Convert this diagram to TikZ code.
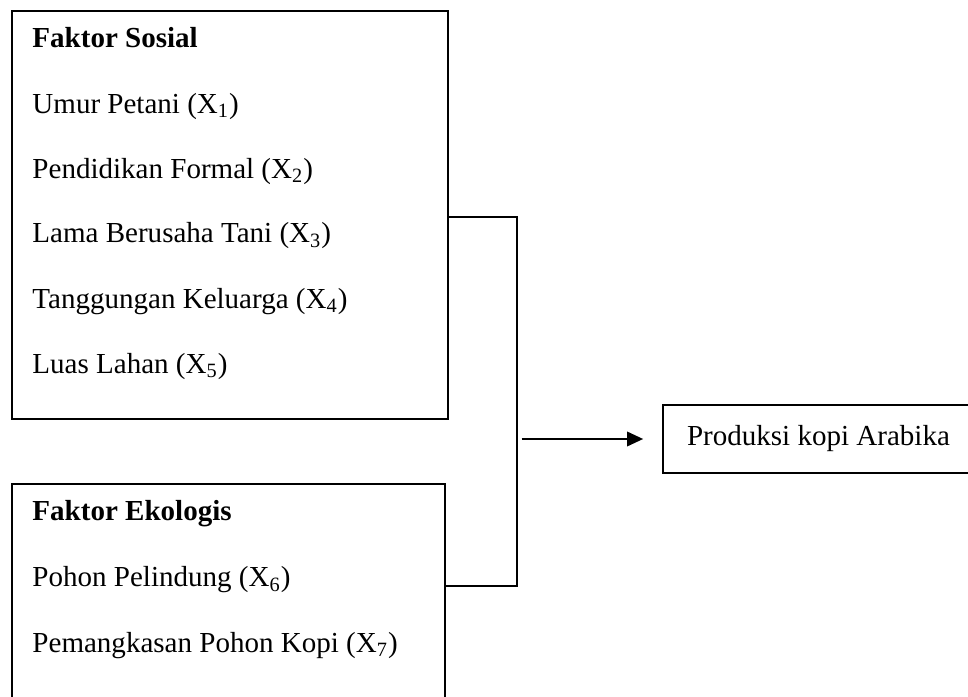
\documentclass[tikz,border=0pt]{standalone}
\usepackage{fontspec}
\setmainfont{Liberation Serif}
\usetikzlibrary{arrows.meta,calc}

\tikzset{
  faktorbox/.style={draw, line width=0.85pt, rectangle, anchor=north west, inner sep=0pt},
  itemtext/.style={anchor=base west, inner sep=0pt, font=\fontsize{12.3}{14}\selectfont},
  garis/.style={line width=0.45pt},
  panah/.style={line width=0.7pt, -{Triangle[length=6.8pt,width=6.2pt]}},
}

\begin{document}
\begin{tikzpicture}[x=0.4237pt, y=-0.4237pt]
    \useasboundingbox (0,0) rectangle (968,697);
    % kotak faktor
    \node[faktorbox, minimum width=184.7pt, minimum height=172.9pt] (sosial) at (11,10) {};
    \node[faktorbox, minimum width=183.5pt, minimum height=100.4pt] (ekol) at (11,483) {};
    % isi faktor sosial
    \node[itemtext] (s0) at (32,48) {\textbf{Faktor Sosial}};
    \node[itemtext] (s1) at (32,113) {Umur Petani (X\textsubscript{1})};
    \node[itemtext] (s2) at (32,178) {Pendidikan Formal (X\textsubscript{2})};
    \node[itemtext] (s3) at (32,243) {Lama Berusaha Tani (X\textsubscript{3})};
    \node[itemtext] (s4) at (32,308) {Tanggungan Keluarga (X\textsubscript{4})};
    \node[itemtext] (s5) at (32,373) {Luas Lahan (X\textsubscript{5})};
    % isi faktor ekologis
    \node[itemtext] (e0) at (32,520) {\textbf{Faktor Ekologis}};
    \node[itemtext] (e1) at (32,587) {Pohon Pelindung (X\textsubscript{6})};
    \node[itemtext] (e2) at (32,652) {Pemangkasan Pohon Kopi (X\textsubscript{7})};
    % produksi
    \node[draw, line width=0.85pt, anchor=west, minimum height=28.8pt, inner xsep=10.2pt,
          text width=126pt, align=flush left, font=\fontsize{12.3}{14}\selectfont] (prod) at (662,439) {Produksi kopi Arabika};
    % penghubung
    \coordinate (gabung) at (517,439);
    \coordinate (sosialkanan) at ($(sosial.north east)+(0,207)$);
    \coordinate (ekolkanan) at ($(ekol.north east)+(0,103)$);
    \draw[garis] (sosialkanan) -| (gabung) |- (ekolkanan);
    \draw[panah, shorten <=2pt, shorten >=8pt] (gabung) -- (prod.west);
\end{tikzpicture}
\end{document}
